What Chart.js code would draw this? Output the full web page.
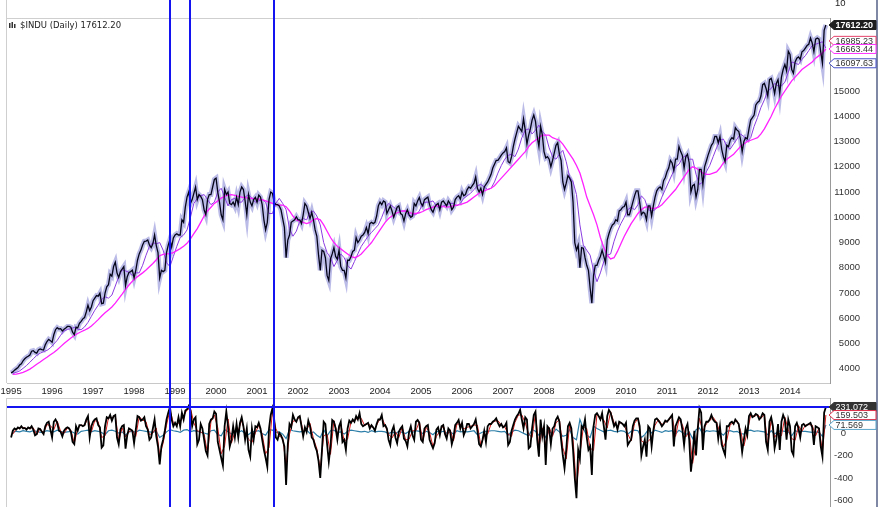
<!DOCTYPE html>
<html>
<head>
<meta charset="utf-8">
<script src="https://cdn.jsdelivr.net/npm/chart.js@4"></script>
<style>
html, body { margin: 0; padding: 0; background: #fff; overflow: hidden; }
#wrap { position: relative; width: 879px; height: 507px; }
canvas { position: absolute; left: 0; }
#top { top: 0; }
#bottom { top: 398px; }
</style>
</head>
<body>
<div id="wrap">
<canvas id="top" width="879" height="398"></canvas>
<canvas id="bottom" width="879" height="109"></canvas>
</div>
<script>
// $INDU daily, sampled twice a month (1995 .. mid Nov 2014)
const firstYear = 1995;
const years = [1995, 1996, 1997, 1998, 1999, 2000, 2001, 2002, 2003, 2004,
               2005, 2006, 2007, 2008, 2009, 2010, 2011, 2012, 2013, 2014];
const priceTicks = [4000, 5000, 6000, 7000, 8000, 9000, 10000, 11000, 12000, 13000, 14000, 15000];
const oscTicks = [0, -200, -400, -600];
const markerDates = [1998.878, 1999.366, 2001.415];
const titleText = '$INDU (Daily) 17612.20';
const stripLabel = '10';

const price = [
  3840, 3880, 3950, 4000, 4050, 4150, 4200, 4320, 4400, 4460, 4500, 4550, 4700, 4720, 4650, 4620, 4750, 4790, 4760, 4750, 4950, 5080, 5170, 5117,
  5050, 5350, 5550, 5630, 5580, 5590, 5500, 5570, 5620, 5680, 5680, 5650, 5450, 5350, 5650, 5620, 5800, 5880, 5980, 6030, 6250, 6520, 6300, 6448,
  6700, 6800, 6900, 6880, 7000, 6580, 6600, 7000, 7250, 7330, 7750, 7670, 8050, 8220, 7800, 7620, 7850, 7950, 8050, 7300, 7650, 7820, 7850, 7908,
  7600, 7900, 8300, 8550, 8700, 8900, 9050, 9060, 9100, 8900, 8800, 8950, 9300, 8880, 8600, 7600, 7900, 7850, 7900, 8600, 8900, 9120, 8820, 9181,
  9300, 9350, 9300, 9300, 9900, 9800, 10400, 10800, 11000, 10550, 10700, 10950, 11200, 10700, 10900, 10830, 10700, 10300, 10100, 10700, 10900, 10900, 11200, 11497,
  11550, 11000, 10600, 10100, 9900, 11100, 10900, 11000, 10550, 10500, 10600, 10450, 10800, 10500, 11000, 11200, 11100, 10650, 10100, 10900, 10600, 10450, 10700, 10787,
  10600, 10880, 10800, 10500, 9900, 9500, 9800, 10700, 11000, 10950, 10600, 10500, 10500, 10450, 10300, 9950, 9600, 8400, 9100, 9300, 9800, 9850, 9900, 10021,
  9900, 9900, 9750, 10100, 10550, 10450, 10200, 9950, 10200, 9900, 9500, 9250, 8500, 7900, 8700, 8650, 8400, 7700, 7500, 8350, 8550, 8800, 8450, 8342,
  8700, 8050, 7900, 7900, 7600, 8300, 8300, 8450, 8650, 8700, 9200, 9000, 9100, 9250, 9300, 9400, 9600, 9350, 9750, 9800, 9750, 9800, 10050, 10454,
  10600, 10500, 10650, 10600, 10150, 10300, 10450, 10250, 10000, 10200, 10400, 10450, 10150, 10100, 9850, 10150, 10300, 10100, 10000, 10050, 10550, 10450, 10650, 10783,
  10550, 10450, 10700, 10750, 10800, 10500, 10300, 10200, 10400, 10500, 10550, 10300, 10600, 10650, 10550, 10450, 10650, 10550, 10300, 10400, 10700, 10800, 10850, 10718,
  11000, 10850, 10900, 11100, 11200, 11150, 11250, 11350, 11600, 11150, 11000, 11150, 10900, 11200, 11300, 11400, 11550, 11700, 11950, 12100, 12250, 12250, 12350, 12463,
  12550, 12600, 12750, 12200, 12150, 12400, 12800, 13100, 13350, 13600, 13500, 13400, 13900, 13450, 12900, 13250, 13500, 13850, 14050, 13800, 13200, 12800, 13600, 13264,
  12600, 12350, 12400, 12300, 12000, 12250, 12550, 12850, 12950, 12500, 12250, 11400, 11100, 11350, 11650, 11550, 11400, 10600, 9000, 8700, 8900, 8000, 8800, 8776,
  8400, 8100, 7900, 7200, 6600, 7700, 8100, 8100, 8300, 8450, 8700, 8450, 8200, 9100, 9350, 9550, 9700, 9750, 9900, 9850, 10250, 10300, 10400, 10428,
  10600, 10100, 10100, 10350, 10600, 10850, 11050, 11050, 10600, 10100, 10200, 10150, 9900, 10450, 10450, 10050, 10450, 10800, 11050, 11150, 11200, 11100, 11450, 11577,
  11800, 11950, 12250, 12150, 11850, 12300, 12300, 12800, 12600, 12450, 11950, 12400, 12500, 12150, 11000, 11250, 11300, 10800, 11100, 11900, 11900, 11300, 12000, 12217,
  12450, 12650, 12850, 12950, 13200, 13200, 12950, 13200, 12700, 12400, 12200, 12850, 12800, 13050, 13150, 13100, 13550, 13450, 13400, 13100, 12600, 13000, 13150, 13104,
  13500, 13850, 13950, 14050, 14450, 14550, 14600, 14800, 15250, 15300, 15100, 14800, 15450, 15500, 15250, 14900, 15300, 15450, 14900, 15550, 15850, 16050, 15800, 16577,
  16450, 15850, 15700, 16150, 16300, 16350, 16250, 16550, 16600, 16700, 16800, 16850, 17100, 16900, 16550, 17050, 17100, 17050, 16550, 16100, 17400, 17612.20
];

// slow average (magenta), monthly
const sma200 = [
  3780, 3790, 3820, 3860, 3920, 3990, 4080, 4180, 4270, 4370, 4460, 4560,
  4650, 4760, 4880, 5000, 5110, 5220, 5320, 5400, 5470, 5530, 5600, 5700,
  5820, 5950, 6090, 6220, 6330, 6450, 6600, 6780, 6960, 7150, 7320, 7470,
  7600, 7700, 7800, 7910, 8040, 8170, 8320, 8480, 8530, 8550, 8560, 8600,
  8680, 8760, 8850, 8970, 9150, 9350, 9550, 9800, 10050, 10250, 10400, 10550,
  10650, 10760, 10830, 10880, 10900, 10870, 10830, 10800, 10780, 10760, 10750, 10740,
  10720, 10700, 10650, 10600, 10550, 10500, 10480, 10480, 10420, 10250, 10050, 9900,
  9850, 9800, 9750, 9800, 9900, 9950, 9900, 9700, 9450, 9200, 9000, 8850,
  8750, 8650, 8550, 8450, 8400, 8450, 8550, 8700, 8850, 9000, 9200, 9400,
  9600, 9800, 9950, 10050, 10150, 10200, 10250, 10250, 10200, 10150, 10150, 10180,
  10230, 10300, 10350, 10400, 10450, 10450, 10420, 10400, 10420, 10450, 10480, 10500,
  10550, 10600, 10700, 10800, 10900, 11000, 11050, 11100, 11150, 11250, 11400, 11550,
  11700, 11850, 12000, 12150, 12300, 12450, 12600, 12800, 12950, 13050, 13150, 13250,
  13250, 13250, 13150, 13100, 13050, 12900, 12700, 12500, 12300, 12050, 11750, 11300,
  10800, 10450, 10100, 9700, 9200, 8800, 8500, 8350, 8400, 8650, 8950, 9250,
  9500, 9750, 9950, 10150, 10300, 10400, 10400, 10350, 10350, 10400, 10500, 10650,
  10800, 10950, 11100, 11300, 11500, 11700, 11900, 12000, 11950, 11850, 11750, 11700,
  11700, 11750, 11800, 11950, 12150, 12300, 12400, 12500, 12650, 12800, 12900, 13000,
  13050, 13100, 13150, 13300, 13500, 13750, 14000, 14300, 14550, 14800, 15000, 15200,
  15400, 15550, 15700, 15850, 15950, 16050, 16150, 16300, 16400, 16500, 16663.44
];

// faster average (purple), monthly
const sma50 = [
  3820, 3860, 3920, 4020, 4130, 4260, 4400, 4530, 4620, 4680, 4730, 4830,
  4980, 5130, 5330, 5500, 5560, 5590, 5640, 5570, 5550, 5660, 5840, 6080,
  6320, 6520, 6750, 6850, 6800, 6920, 7280, 7650, 7920, 7880, 7820, 7700,
  7800, 7800, 8100, 8500, 8850, 9000, 8950, 9000, 8700, 8200, 8050, 8450,
  8850, 9200, 9300, 9500, 10000, 10550, 10750, 10850, 10900, 10700, 10500, 10600,
  11000, 11150, 10800, 10450, 10700, 10750, 10600, 10600, 10800, 10900, 10750, 10600,
  10650, 10700, 10600, 10150, 10150, 10550, 10750, 10550, 10300, 9550, 9250, 9450,
  9850, 9950, 9900, 10200, 10250, 10050, 9700, 9000, 8600, 8400, 8050, 8300,
  8550, 8400, 8100, 7950, 8250, 8550, 8850, 9050, 9250, 9400, 9550, 9700,
  10000, 10350, 10550, 10450, 10350, 10250, 10250, 10250, 10050, 10100, 10100, 10250,
  10550, 10600, 10600, 10650, 10450, 10350, 10450, 10500, 10550, 10550, 10450, 10550,
  10750, 10850, 10950, 11100, 11250, 11300, 11200, 11100, 11150, 11400, 11750, 12050,
  12300, 12450, 12500, 12400, 12700, 13150, 13450, 13500, 13300, 13450, 13650, 13400,
  13250, 12750, 12400, 12300, 12500, 12650, 12200, 11600, 11400, 10900, 9700, 8900,
  8700, 8500, 7900, 7450, 7800, 8250, 8500, 8550, 9050, 9450, 9750, 10000,
  10300, 10400, 10300, 10500, 10850, 10700, 10300, 10250, 10300, 10450, 10800, 11100,
  11400, 11700, 12000, 12100, 12350, 12450, 12300, 12300, 11700, 11300, 11400, 11800,
  12050, 12400, 12750, 13050, 13100, 12800, 12700, 12900, 13100, 13300, 13200, 13000,
  13150, 13600, 13950, 14350, 14650, 15000, 15100, 15300, 15200, 15200, 15350, 15750,
  16150, 16100, 16050, 16250, 16400, 16600, 16800, 16850, 16900, 16950, 16700
];

// lower panel oscillator (black), twice a month
const osc = [
  -40, 20, 40, 30, 50, 40, 60, 40, 45, 30, 50, 40, 60, 30, -20, -10, 40, 35, 10, -10, 60, 90, 100, 30,
  -40, 100, 120, 90, 20, 10, -30, 20, 40, 50, 40, 10, -80, -100, 60, 20, 70, 70, 60, 70, 120, 150, -40, 60,
  100, 120, 130, 70, 50, -130, -110, 60, 140, 130, 160, 110, 150, 160, -40, -100, 30, 60, 70, -140, -20, 40, 30, 20,
  -90, 30, 150, 140, 110, 120, 140, 60, 30, -60, -40, 40, 120, -30, -120, -280, -120, -60, 20, 120, 180, 230, 120, 60,
  90, 60, 140, 60, 180, 120, 200, 210, 240, 200, 60, 120, 140, -100, -60, 80, 40, -60, -160, -200, 80, 120, 130, 190,
  170, -80, -150, -220, -290, 60, 190, 60, -120, -60, 60, -40, 80, -40, 90, 140, 60, -60, 40, -150, -210, 40, -60, 60,
  50, 90, 40, -60, -150, -220, -300, 40, 160, 219, 120, -40, -60, 0, -20, -60, -120, -462, -100, 80, 50, 160, 120, 100,
  140, 150, 60, -30, 50, 10, 110, 60, -40, -60, -120, -160, -250, -400, -150, 100, 80, -100, -255, -120, 115, 100, 40, -60,
  60, 100, -80, -60, -150, 40, 110, 90, 120, 100, 150, 120, 175, 80, 60, 70, 80, 90, 40, 70, 50, 20, 80, 120,
  120, 160, 60, 70, 40, -60, -107, 20, 60, -40, -90, 10, 40, 60, -50, -70, -120, 10, 60, -20, -60, 100, 115, 90,
  -60, -80, 40, 60, 70, -60, -100, -136, -90, 30, 50, -20, 60, 70, -10, -50, 40, 20, -100, -40, 70, 90, 115, 40,
  90, -20, 20, 80, 80, 40, 60, 80, 120, 20, -100, -120, -60, 20, -80, 60, 80, 80, 100, 110, 130, 90, 60, 80,
  50, 60, 90, -107, -80, 20, 70, 120, 150, 170, 205, 120, 40, 140, 120, -136, -120, 40, 160, 190, -60, -210, 120, -30,
  60, -285, 60, 40, -100, 40, 60, 120, 145, 100, -60, -200, -314, -150, 60, 90, 40, -150, -400, -580, -150, -225, 60, 40,
  120, -40, -150, -120, -373, 60, 160, 175, 150, 120, 175, 60, -60, 150, 205, 180, 120, 60, 90, 30, 100, 90, 80, 60,
  90, -107, -80, -60, 60, 110, 130, 130, 60, -200, -120, -60, -210, 60, 40, -120, 20, 120, 130, 110, 90, 60, 80, 110,
  100, 120, 140, 160, -120, 60, 100, 140, 120, 30, -107, 40, 80, -60, -344, -200, 20, -200, 40, 220, 180, -150, 60, 100,
  100, 120, 160, 120, 100, 90, -50, 60, -100, -150, -195, 60, 60, 90, 100, 80, 120, 100, 80, -30, -170, -60, 40, -20,
  150, 175, 140, 150, 170, 160, 120, 140, 175, 160, -80, -150, 100, 140, 60, -136, -60, 80, -150, 100, 160, 120, -60, 120,
  60, -160, -195, 60, 90, 40, -40, 70, 80, 60, 70, 80, 90, 50, -107, 60, 50, 40, -120, -210, 180, 231.072
];

// signal line (red), monthly
const oscSignal = [
  -10, 35, 45, 50, 38, 45, 45, -15, 38, 0, 75, 65,
  30, 105, 15, -5, 45, 25, -90, 40, 70, 65, 135, 10,
  110, 100, -40, -25, 135, 135, 155, -70, 45, -35, 10, 25,
  -30, 145, 115, 100, -15, 0, 45, -200, -90, 70, 205, 90,
  75, 100, 150, 205, 220, 90, 20, 10, -10, -180, 100, 160,
  45, -185, -115, 125, -90, 10, 20, 115, 0, -55, -85, 0,
  70, -10, -185, -130, 190, 40, -30, -40, -290, -10, 105, 110,
  145, 15, 30, 85, -50, -140, -325, -25, -10, -190, 110, -10,
  80, -70, -55, 100, 110, 135, 130, 65, 85, 55, 35, 100,
  140, 65, -10, -45, 10, -40, 50, -60, -55, 20, 20, 100,
  -70, 50, 5, -120, -30, 15, 65, -30, 30, -70, 80, 80,
  35, 50, 60, 70, 70, -110, -20, -10, 80, 105, 110, 70,
  55, -10, -30, 95, 160, 160, 90, -10, -40, 175, -135, 45,
  -110, 50, -30, 90, 120, -130, -230, 75, -55, -490, -190, 50,
  40, -135, -155, 165, 135, 115, 45, 190, 90, 60, 95, 70,
  -10, -70, 85, 130, -70, -90, -75, -40, 70, 120, 75, 95,
  110, 150, -30, 120, 75, -35, 10, -270, -90, 130, 15, 80,
  110, 140, 95, 5, -125, -65, 75, 90, 110, 25, -115, 10,
  160, 145, 165, 130, 165, -115, 120, -40, 10, -25, 140, 30,
  -50, -65, 65, 15, 70, 75, 70, -25, 45, -165, 159.503
];

// flat line near zero (teal), monthly
const oscBase = [
  5, 15, 10, 20, 15, 10, 20, 15, 5, 10, 20, 15,
  10, 25, 15, 5, 10, 15, 0, -10, 15, 20, 25, 10,
  20, 15, 5, -15, 20, 25, 15, 0, 10, -20, 10, 15,
  5, 25, 20, 15, 10, 5, 15, -40, -20, 10, 30, 20,
  15, 5, 25, 30, 10, 20, 15, 5, 0, -10, 20, 25,
  -15, -25, 30, 10, -10, 15, 5, 20, -5, -15, 10, 15,
  20, -5, -20, 30, 25, 5, 10, -10, -50, 30, 20, 15,
  10, 15, 25, -5, 10, -20, -40, 30, -25, 20, 25, 5,
  10, -10, 15, 25, 20, 15, 10, 15, 5, 20, 10, 15,
  15, 10, -5, 10, -5, 15, 5, -5, 15, 5, 20, 15,
  -5, 15, 5, -15, 15, 5, 15, 0, 10, -10, 20, 10,
  15, 10, 15, 20, -15, 0, 15, 15, 20, 20, 15, 10,
  15, -20, 10, 25, 20, 5, -10, -25, 30, 15, -20, 15,
  -40, 20, -15, 35, 10, -30, -20, 30, -40, -60, 120, 40,
  -20, -40, 60, 40, 25, 10, 20, 25, 15, 10, 20, 15,
  -10, 15, 25, 20, -40, -15, 30, 0, 25, 15, 5, 20,
  15, 20, -10, 25, 5, -15, 10, -50, 30, 45, -10, 20,
  15, 20, 15, 5, -20, 15, 20, 10, 15, -5, -10, 20,
  25, 15, 20, 15, 10, -15, 20, -10, 15, 20, 15, 10,
  -25, 20, 10, 15, 15, 10, 5, 10, 5, -30, 71.569
];

const priceTagValues = [17612.20, 16985.23, 16663.44, 16097.63];
const oscTagValues = [231.072, 159.503, 71.569];

const halfMonthly = arr => arr.map((v, i) => ({ x: firstYear + i / 24, y: v }));
const monthly = arr => arr.map((v, i) => ({ x: firstYear + (i + 0.5) / 12, y: v }));

const X_MIN = 1994.90, X_MAX = 2014.976;
const AXIS_FONT = { family: 'Liberation Sans', size: 9.5 };
const BLUE = '#1414f0';

function drawTag(ctx, y, text, fill, stroke, color, bold) {
    ctx.save();
    ctx.beginPath();
    ctx.moveTo(829, y);
    ctx.lineTo(834, y - 4.5);
    ctx.lineTo(876, y - 4.5);
    ctx.lineTo(876, y + 4.5);
    ctx.lineTo(834, y + 4.5);
    ctx.closePath();
    ctx.fillStyle = fill;
    ctx.fill();
    ctx.strokeStyle = stroke;
    ctx.lineWidth = 1;
    ctx.stroke();
    ctx.fillStyle = color;
    ctx.font = (bold ? 'bold ' : '') + '9px "Liberation Sans"';
    ctx.textBaseline = 'middle';
    ctx.textAlign = 'left';
    ctx.fillText(text, 835.5, y + 0.5);
    ctx.restore();
}

function drawMarkers(chart) {
    const ctx = chart.ctx;
    const xs = chart.scales.x;
    ctx.save();
    ctx.strokeStyle = BLUE;
    ctx.lineWidth = 2;
    markerDates.forEach(d => {
        const px = Math.round(xs.getPixelForValue(d));
        ctx.beginPath();
        ctx.moveTo(px, 0);
        ctx.lineTo(px, chart.height);
        ctx.stroke();
    });
    // window frame on the right
    ctx.strokeStyle = '#7f89a6';
    ctx.beginPath();
    ctx.moveTo(877, 0);
    ctx.lineTo(877, chart.height);
    ctx.stroke();
    ctx.restore();
}

const topDecor = {
    id: 'topDecor',
    afterDatasetsDraw(chart) {
        const ctx = chart.ctx;
        const a = chart.chartArea;
        ctx.save();
        ctx.strokeStyle = '#cfcfcf';
        ctx.lineWidth = 1;
        ctx.beginPath();
        ctx.moveTo(6.5, 18.5);
        ctx.lineTo(a.right, 18.5);
        ctx.moveTo(6.5, 0);
        ctx.lineTo(6.5, a.bottom);
        ctx.stroke();
        ctx.fillStyle = '#222';
        ctx.font = '9.5px "Liberation Sans"';
        ctx.textBaseline = 'middle';
        ctx.fillText(stripLabel, 835, 3);

        // title with small icon
        ctx.fillStyle = '#333';
        ctx.fillRect(9, 23, 1.5, 5);
        ctx.fillRect(11.5, 22, 1.5, 6);
        ctx.fillRect(14, 24, 1.5, 4);
        ctx.fillStyle = '#222';
        ctx.font = '8.5px "DejaVu Sans"';
        ctx.fillText(titleText, 20, 26);
        ctx.restore();

        drawMarkers(chart);

        const ys = chart.scales.y;
        const tagStyles = [
            ['#1e1e1e', '#1e1e1e', '#fff', true],
            ['#fff', '#e4406a', '#333', false],
            ['#fff', '#ff33ff', '#333', false],
            ['#fff', '#4650c8', '#333', false]
        ];
        priceTagValues.forEach((v, i) => {
            const s = tagStyles[i];
            drawTag(ctx, ys.getPixelForValue(v), v.toFixed(2), s[0], s[1], s[2], s[3]);
        });
    }
};

const bottomDecor = {
    id: 'bottomDecor',
    afterDatasetsDraw(chart) {
        const ctx = chart.ctx;
        const a = chart.chartArea;
        const ys = chart.scales.y;
        ctx.save();
        ctx.strokeStyle = '#cfcfcf';
        ctx.lineWidth = 1;
        ctx.beginPath();
        ctx.moveTo(6.5, 0.5);
        ctx.lineTo(a.right, 0.5);
        ctx.moveTo(6.5, 0);
        ctx.lineTo(6.5, chart.height);
        ctx.stroke();
        const hy = Math.round(ys.getPixelForValue(oscTagValues[0]));
        ctx.strokeStyle = BLUE;
        ctx.lineWidth = 2;
        ctx.beginPath();
        ctx.moveTo(7, hy);
        ctx.lineTo(a.right, hy);
        ctx.stroke();
        ctx.restore();

        drawMarkers(chart);

        const tagStyles = [
            ['#333', '#333', '#fff', false],
            ['#fff', '#e0304a', '#333', false],
            ['#fff', '#5aa6cc', '#333', false]
        ];
        oscTagValues.forEach((v, i) => {
            const s = tagStyles[i];
            drawTag(ctx, ys.getPixelForValue(v), v.toFixed(3), s[0], s[1], s[2], s[3]);
        });
    }
};

const baseOptions = {
    responsive: false,
    animation: false,
    devicePixelRatio: 1,
    elements: { point: { radius: 0 }, line: { tension: 0 } },
    plugins: { legend: { display: false }, tooltip: { enabled: false } }
};

new Chart(document.getElementById('top').getContext('2d'), {
    type: 'line',
    data: {
        datasets: [
            { data: halfMonthly(price), borderColor: 'rgba(105,105,205,0.45)', borderWidth: 5, order: 5 },
            { data: monthly(sma50), borderColor: '#8a3de0', borderWidth: 1, order: 4 },
            { data: monthly(sma200), borderColor: '#ff22ff', borderWidth: 1.3, order: 3 },
            { data: halfMonthly(price), borderColor: '#05051a', borderWidth: 1.3, order: 1 }
        ]
    },
    options: {
        ...baseOptions,
        layout: { padding: { left: 7, right: 19, top: 18, bottom: 0 } },
        scales: {
            x: {
                type: 'linear',
                min: X_MIN,
                max: X_MAX,
                grid: { display: false, drawTicks: false },
                border: { color: '#c8c8c8' },
                ticks: { color: '#222', font: AXIS_FONT, padding: 3, maxRotation: 0, autoSkip: false, callback: v => String(v) },
                afterBuildTicks: s => { s.ticks = years.map(v => ({ value: v })); },
                afterFit: s => { s.height = 15; s.paddingLeft = 0; s.paddingRight = 0; }
            },
            y: {
                type: 'linear',
                position: 'right',
                min: 3440,
                max: 17890,
                grid: { display: false, drawTicks: false },
                border: { color: '#9a9a9a', dash: [1, 2] },
                ticks: { color: '#333', font: AXIS_FONT, padding: 4, crossAlign: 'far', callback: v => String(v) },
                afterBuildTicks: s => { s.ticks = priceTicks.map(v => ({ value: v })); },
                afterFit: s => { s.width = 30; s.paddingTop = 0; s.paddingBottom = 0; }
            }
        }
    },
    plugins: [topDecor]
});

new Chart(document.getElementById('bottom').getContext('2d'), {
    type: 'line',
    data: {
        datasets: [
            { data: monthly(oscBase), borderColor: '#2c7ea8', borderWidth: 1.2, order: 4 },
            { data: monthly(oscSignal), borderColor: '#d81c1c', borderWidth: 1, order: 3 },
            { data: halfMonthly(osc), borderColor: '#000', borderWidth: 1.8, order: 1 }
        ]
    },
    options: {
        ...baseOptions,
        layout: { padding: { left: 7, right: 19, top: 0, bottom: 0 } },
        scales: {
            x: { type: 'linear', min: X_MIN, max: X_MAX, display: false },
            y: {
                type: 'linear',
                position: 'right',
                min: -658,
                max: 311,
                grid: { display: false, drawTicks: false },
                border: { color: '#9a9a9a', dash: [1, 2] },
                ticks: { color: '#333', font: AXIS_FONT, padding: 4, crossAlign: 'center', callback: v => String(v) },
                afterBuildTicks: s => { s.ticks = oscTicks.map(v => ({ value: v })); },
                afterFit: s => { s.width = 30; s.paddingTop = 0; s.paddingBottom = 0; }
            }
        }
    },
    plugins: [bottomDecor]
});
</script>
</body>
</html>
